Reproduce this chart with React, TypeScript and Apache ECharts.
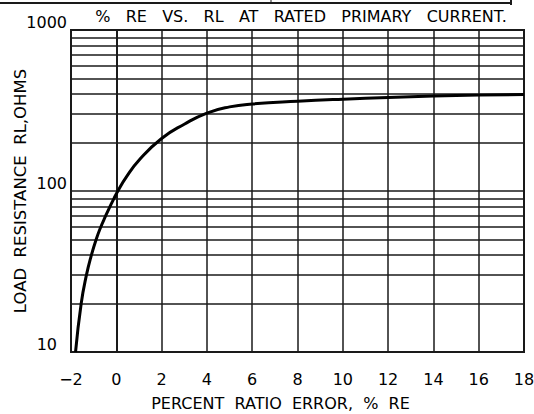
import React, { useEffect, useRef } from "react";
import * as echarts from "echarts";

const chartTitle = "%   RE   VS.   RL   AT   RATED   PRIMARY   CURRENT.";
const xAxisName = "PERCENT  RATIO  ERROR,  %  RE";
const yAxisName = "LOAD  RESISTANCE  RL,OHMS";

const xTicksMin = -2;
const xTicksMax = 18;
const xTickStep = 2;
const yMin = 10;
const yMax = 1000;

const minorGridValues = [20, 30, 40, 50, 60, 70, 80, 90, 200, 300, 400, 500, 600, 700, 800, 900];

const percentRE = [-1.8, -1.55, -1.32, -1.1, -0.89, -0.68, -0.47, -0.28, -0.1, 0.07, 0.44, 1.03, 2, 3, 4, 5, 6, 8, 10, 12, 14, 16, 18];
const loadOhms = [10, 20, 30, 40, 50, 60, 70, 80, 90, 100, 122, 157, 212, 260, 305, 333, 347, 361, 372, 381, 389, 394, 398];

const FONT = "DejaVu Sans";
const INK = "#1a1a1a";

export default function App() {
  const ref = useRef<HTMLDivElement>(null);
  useEffect(() => {
    if (!ref.current) return;
    const chart = echarts.init(ref.current, undefined, { renderer: "svg" });
    chart.setOption({
      animation: false,
      backgroundColor: "#fff",
      grid: {
        left: 71,
        right: 10,
        top: 30,
        bottom: 62,
        show: true,
        borderColor: INK,
        borderWidth: 2,
        containLabel: false,
        outerBoundsMode: "none",
      },
      graphic: [
        {
          type: "text",
          x: 301,
          y: 16,
          style: {
            text: chartTitle,
            font: `16px "${FONT}"`,
            fill: "#000",
            align: "center",
            verticalAlign: "middle",
          },
        },
        {
          type: "line",
          shape: { x1: 0, y1: 3, x2: 511, y2: 3 },
          style: { stroke: INK, lineWidth: 2 },
        },
        {
          type: "line",
          shape: { x1: 511, y1: 0, x2: 511, y2: 5 },
          style: { stroke: INK, lineWidth: 2 },
        },
        {
          type: "line",
          shape: { x1: 271, y1: 0, x2: 271, y2: 3 },
          style: { stroke: INK, lineWidth: 1 },
        },
      ],
      xAxis: {
        type: "value",
        min: xTicksMin,
        max: xTicksMax,
        interval: xTickStep,
        name: xAxisName,
        nameLocation: "middle",
        nameGap: 43,
        nameMoveOverlap: false,
        nameTextStyle: {
          fontFamily: FONT,
          fontSize: 16,
          color: "#000",
          padding: [0, 34, 0, 0],
        },
        axisLine: { show: true, lineStyle: { color: INK, width: 2 } },
        axisTick: { show: false },
        axisLabel: {
          margin: 19,
          fontFamily: FONT,
          fontSize: 16,
          color: "#000",
          formatter: (v: number) => (v < 0 ? "\u2212" + Math.abs(v) : String(v)),
        },
        splitLine: { show: true, lineStyle: { color: INK, width: 1.5 } },
      },
      yAxis: {
        type: "log",
        logBase: 10,
        min: yMin,
        max: yMax,
        name: yAxisName,
        nameLocation: "middle",
        nameGap: 42,
        nameMoveOverlap: false,
        nameTextStyle: { fontFamily: FONT, fontSize: 16.5, color: "#000" },
        axisLine: { show: true, lineStyle: { color: INK, width: 2 } },
        axisTick: { show: false },
        axisLabel: {
          margin: 4,
          verticalAlign: "bottom",
          fontFamily: FONT,
          fontSize: 16,
          color: "#000",
          formatter: (v: number) => (v === 10 ? "{ten|10}" : String(v)),
          rich: {
            ten: { fontFamily: FONT, fontSize: 16, color: "#000", padding: [0, 10, 0, 0] },
          },
        },
        splitLine: { show: true, lineStyle: { color: INK, width: 1.5 } },
      },
      series: [
        {
          type: "line",
          data: percentRE.map((x, i) => [x, loadOhms[i]]),
          smooth: 0.5,
          showSymbol: false,
          symbol: "none",
          lineStyle: { color: "#000", width: 3 },
          z: 5,
          markLine: {
            silent: true,
            symbol: "none",
            label: { show: false },
            lineStyle: { color: INK, width: 1.5, type: "solid" },
            data: minorGridValues.map((v) => ({ yAxis: v })),
            z: 1,
          },
        },
      ],
    });
    return () => chart.dispose();
  }, []);
  return <div ref={ref} style={{ width: 534, height: 414, position: "absolute", left: 0, top: 0 }} />;
}
